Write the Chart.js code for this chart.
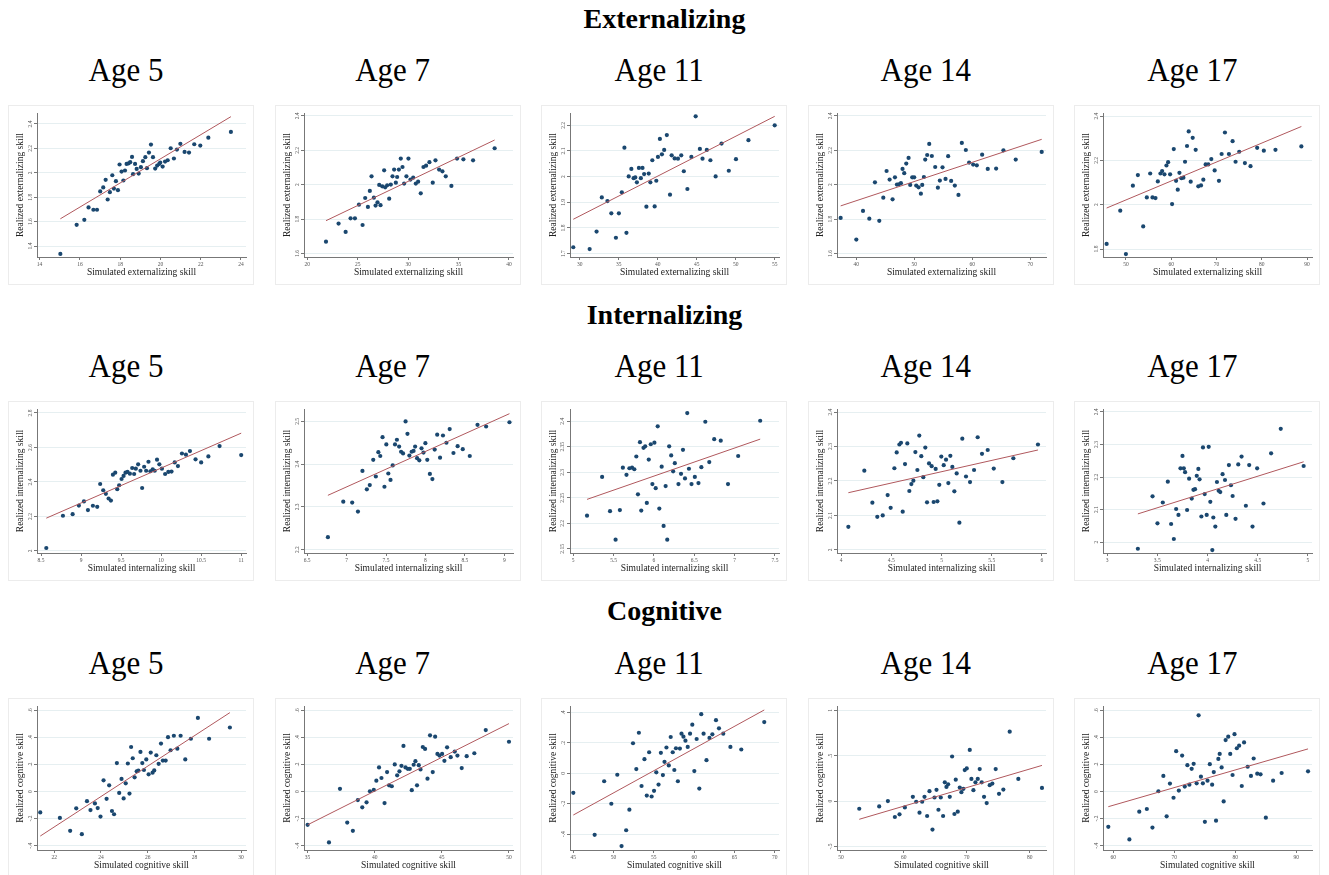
<!DOCTYPE html>
<html>
<head>
<meta charset="utf-8">
<script src="https://cdn.jsdelivr.net/npm/chart.js@4.4.0/dist/chart.umd.min.js"></script>
<style>
body { margin:0; background:#fff; width:1329px; height:875px; overflow:hidden; position:relative;
       font-family:"Liberation Serif","Times New Roman",serif; }
.group { position:absolute; left:0; width:1329px; text-align:center; font-weight:bold;
         font-size:28px; line-height:28px; color:#000; }
.age { position:absolute; width:246px; text-align:center; font-size:31px; line-height:31px; color:#000;
       transform:scaleY(1.1); transform-origin:50% 26px; }
.panel { position:absolute; width:244px; height:178px; border:1px solid #ececec; background:#fff; }
.panel canvas { display:block; }
</style>
</head>
<body>
<script>
const groups = ['Externalizing', 'Internalizing', 'Cognitive'];
const ages = ['Age 5', 'Age 7', 'Age 11', 'Age 14', 'Age 17'];
const xTitles = ['Simulated externalizing skill', 'Simulated internalizing skill', 'Simulated cognitive skill'];
const yTitles = ['Realized externalizing skill', 'Realized internalizing skill', 'Realized cognitive skill'];

// [simulated, realized] per child-group point
const ext5 = [[15.03,1.335],[15.84,1.574],[16.22,1.615],[16.43,1.716],[16.67,1.697],[16.85,1.697],[17.01,1.847],[17.16,1.88],[17.28,1.942],[17.38,1.781],[17.49,1.841],[17.61,1.98],[17.69,1.871],[17.79,1.931],[17.89,1.858],[17.97,2.068],[18.07,2.01],[18.16,1.937],[18.24,2.019],[18.32,2.073],[18.42,2.078],[18.5,2.087],[18.59,2.13],[18.64,1.989],[18.74,2.073],[18.82,2.032],[18.92,1.994],[19.03,2.046],[19.13,2.095],[19.25,2.128],[19.33,2.038],[19.43,2.166],[19.53,2.231],[19.63,2.128],[19.74,2.035],[19.84,2.059],[19.94,2.073],[19.99,2.084],[20.11,2.051],[20.23,2.092],[20.36,2.103],[20.51,2.201],[20.67,2.117],[20.82,2.19],[20.99,2.237],[21.2,2.171],[21.42,2.166],[21.68,2.234],[21.98,2.223],[22.38,2.288],[23.5,2.335]];
const ext7 = [[21.85,1.669],[23.1,1.774],[23.8,1.726],[24.29,1.805],[24.72,1.805],[25.12,1.884],[25.48,1.766],[25.74,1.923],[26.01,1.871],[26.2,1.964],[26.37,2.049],[26.6,1.925],[26.77,1.879],[26.96,1.898],[27.13,1.999],[27.26,1.881],[27.43,1.991],[27.62,2.084],[27.72,1.985],[27.92,1.997],[28.12,1.919],[28.28,2.001],[28.45,2.049],[28.61,2.088],[28.78,2.012],[28.91,2.045],[29.08,2.088],[29.27,2.152],[29.44,2.103],[29.6,2.007],[29.83,2.049],[30.03,2.152],[30.23,2.03],[30.5,2.041],[30.76,2.007],[30.99,2.018],[31.25,1.95],[31.52,2.103],[31.78,2.111],[32.11,2.131],[32.44,2.012],[32.71,2.142],[33.07,2.088],[33.4,2.078],[33.73,2.049],[34.29,1.993],[34.85,2.152],[35.48,2.148],[36.44,2.142],[38.58,2.212]];
const ext11 = [[29.16,1.725],[31.26,1.718],[32.15,1.786],[32.82,1.919],[33.54,1.905],[34.04,1.857],[34.63,1.762],[35.01,1.857],[35.39,1.939],[35.72,2.113],[35.98,1.781],[36.27,2.001],[36.61,2.03],[36.9,1.994],[37.11,1.997],[37.32,1.978],[37.58,2.034],[37.83,1.994],[38.04,2.034],[38.25,2.01],[38.54,1.883],[38.84,2.012],[39.05,1.978],[39.3,2.064],[39.6,1.884],[39.81,1.984],[40.02,2.077],[40.27,2.147],[40.53,2.087],[40.82,2.104],[41.16,2.162],[41.57,1.93],[41.78,2.083],[42.16,2.071],[42.59,2.07],[43.01,2.083],[43.34,2.021],[43.8,1.952],[44.31,2.077],[44.86,2.235],[45.4,2.108],[45.74,2.07],[46.29,2.104],[46.75,2.064],[47.42,2.001],[48.18,2.129],[49.11,2.023],[50.03,2.068],[51.63,2.142],[55,2.2]];
const ext14 = [[37.3,1.807],[40,1.681],[41.15,1.848],[42.24,1.803],[43.21,2.014],[43.96,1.79],[44.65,1.925],[45.22,2.08],[45.74,2.03],[46.25,1.915],[46.66,2.043],[47,2.001],[47.34,2.003],[47.69,2.009],[47.97,2.092],[48.26,2.067],[48.61,2.123],[49.01,2.156],[49.29,1.999],[49.64,2.043],[49.98,2.043],[50.33,1.995],[50.73,1.985],[51.13,1.948],[51.36,1.999],[51.65,2.045],[51.88,2.146],[52.22,2.173],[52.57,2.237],[53.02,2.167],[53.6,2.103],[54.06,1.983],[54.4,2.024],[54.86,2.101],[55.38,2.034],[55.83,2.166],[56.35,2.022],[56.98,1.995],[57.61,1.941],[58.19,2.243],[58.88,2.202],[59.45,2.129],[60.14,2.117],[60.77,2.113],[61.69,2.175],[62.66,2.092],[64.1,2.094],[65.36,2.2],[67.48,2.146],[71.96,2.191]];
const ext17 = [[45.74,1.823],[48.75,1.973],[50,1.777],[51.54,2.086],[52.64,2.134],[53.82,1.902],[54.62,2.033],[55.36,2.141],[55.87,2.033],[56.53,2.03],[57.05,2.105],[57.63,2.141],[58,2.152],[58.51,2.137],[58.95,2.177],[59.32,2.192],[59.76,2.137],[60.2,2.003],[60.57,2.251],[61.08,2.108],[61.45,2.068],[61.82,2.144],[62.26,2.12],[62.7,2.122],[63.06,2.194],[63.5,2.265],[63.87,2.331],[64.31,2.104],[64.75,2.302],[65.41,2.248],[65.99,2.083],[66.59,2.087],[67.1,2.113],[67.61,2.182],[68.2,2.182],[68.86,2.206],[69.6,2.155],[70.55,2.108],[71.14,2.229],[71.87,2.326],[72.75,2.229],[73.56,2.287],[74.22,2.194],[75.03,2.239],[76.28,2.188],[77.52,2.174],[78.99,2.257],[80.46,2.244],[83.03,2.248],[88.75,2.263]];

const int5 = [[8.566,2.017],[8.774,2.204],[8.895,2.213],[8.973,2.263],[9.036,2.287],[9.086,2.237],[9.148,2.262],[9.202,2.256],[9.239,2.388],[9.277,2.352],[9.31,2.331],[9.344,2.304],[9.373,2.292],[9.398,2.442],[9.427,2.454],[9.452,2.358],[9.476,2.381],[9.506,2.417],[9.531,2.435],[9.555,2.454],[9.58,2.458],[9.61,2.448],[9.639,2.481],[9.663,2.446],[9.684,2.477],[9.713,2.502],[9.742,2.465],[9.763,2.365],[9.788,2.488],[9.813,2.465],[9.842,2.517],[9.866,2.462],[9.895,2.473],[9.92,2.465],[9.949,2.529],[9.978,2.502],[10.01,2.477],[10.05,2.446],[10.09,2.458],[10.13,2.46],[10.17,2.513],[10.21,2.492],[10.26,2.565],[10.31,2.558],[10.36,2.579],[10.43,2.531],[10.5,2.513],[10.59,2.548],[10.73,2.608],[11,2.556]];
const int7 = [[6.763,2.229],[6.958,2.312],[7.071,2.31],[7.144,2.289],[7.201,2.384],[7.257,2.341],[7.294,2.351],[7.338,2.41],[7.371,2.371],[7.403,2.428],[7.427,2.419],[7.456,2.463],[7.48,2.347],[7.504,2.446],[7.529,2.378],[7.557,2.363],[7.585,2.397],[7.614,2.446],[7.638,2.457],[7.666,2.441],[7.691,2.429],[7.716,2.425],[7.748,2.5],[7.772,2.471],[7.796,2.42],[7.825,2.429],[7.849,2.431],[7.869,2.441],[7.894,2.414],[7.922,2.409],[7.95,2.437],[7.975,2.427],[7.999,2.449],[8.023,2.41],[8.056,2.377],[8.088,2.365],[8.117,2.434],[8.149,2.469],[8.185,2.415],[8.222,2.467],[8.266,2.45],[8.307,2.482],[8.355,2.426],[8.408,2.442],[8.473,2.435],[8.562,2.419],[8.66,2.492],[8.769,2.488],[9.065,2.498]];
const int11 = [[5.171,2.215],[5.358,2.291],[5.456,2.224],[5.525,2.168],[5.578,2.226],[5.615,2.309],[5.66,2.295],[5.696,2.308],[5.729,2.309],[5.757,2.306],[5.782,2.331],[5.802,2.257],[5.827,2.359],[5.843,2.225],[5.871,2.348],[5.892,2.351],[5.912,2.24],[5.936,2.325],[5.961,2.355],[5.981,2.277],[6.006,2.358],[6.022,2.269],[6.047,2.39],[6.067,2.229],[6.096,2.311],[6.12,2.195],[6.145,2.273],[6.165,2.168],[6.189,2.351],[6.214,2.333],[6.238,2.302],[6.259,2.318],[6.304,2.277],[6.336,2.297],[6.36,2.344],[6.385,2.288],[6.413,2.416],[6.434,2.307],[6.466,2.277],[6.507,2.291],[6.552,2.279],[6.588,2.31],[6.637,2.399],[6.686,2.32],[6.747,2.365],[6.828,2.362],[6.918,2.277],[7.044,2.332],[7.317,2.401]];
const int14 = [[4.073,2.067],[4.232,2.23],[4.312,2.137],[4.361,2.096],[4.415,2.1],[4.464,2.159],[4.494,2.122],[4.531,2.237],[4.554,2.283],[4.581,2.306],[4.597,2.311],[4.614,2.111],[4.637,2.249],[4.66,2.309],[4.68,2.171],[4.7,2.191],[4.72,2.201],[4.74,2.284],[4.76,2.232],[4.779,2.332],[4.799,2.272],[4.819,2.211],[4.839,2.297],[4.856,2.138],[4.876,2.251],[4.902,2.243],[4.922,2.139],[4.942,2.235],[4.959,2.141],[4.978,2.189],[4.998,2.271],[5.022,2.246],[5.045,2.262],[5.068,2.194],[5.088,2.273],[5.108,2.241],[5.128,2.17],[5.151,2.222],[5.178,2.079],[5.207,2.323],[5.244,2.213],[5.284,2.197],[5.324,2.232],[5.36,2.327],[5.403,2.279],[5.46,2.29],[5.52,2.236],[5.606,2.197],[5.715,2.266],[5.96,2.306]];
const int17 = [[3.307,1.98],[3.453,2.141],[3.502,2.058],[3.555,2.122],[3.605,2.186],[3.638,2.056],[3.665,2.01],[3.688,2.102],[3.711,2.084],[3.731,2.227],[3.751,2.265],[3.764,2.227],[3.777,2.215],[3.797,2.099],[3.817,2.195],[3.843,2.134],[3.86,2.161],[3.876,2.163],[3.893,2.204],[3.909,2.225],[3.921,2.193],[3.939,2.079],[3.955,2.291],[3.972,2.148],[3.992,2.084],[4.012,2.293],[4.028,2.124],[4.048,1.976],[4.058,2.076],[4.078,2.048],[4.094,2.185],[4.111,2.158],[4.127,2.154],[4.15,2.209],[4.174,2.191],[4.187,2.084],[4.213,2.237],[4.233,2.175],[4.25,2.142],[4.279,2.072],[4.306,2.239],[4.339,2.263],[4.382,2.112],[4.415,2.237],[4.448,2.048],[4.494,2.227],[4.557,2.119],[4.633,2.273],[4.729,2.348],[4.957,2.234]];

const cog5 = [[21.4,-0.154],[22.24,-0.195],[22.68,-0.29],[22.94,-0.124],[23.18,-0.315],[23.4,-0.071],[23.55,-0.137],[23.74,-0.088],[23.86,-0.122],[23.98,-0.185],[24.11,0.083],[24.24,-0.054],[24.35,0.046],[24.47,-0.144],[24.56,-0.168],[24.68,0.21],[24.78,-0.01],[24.88,0.093],[24.97,-0.051],[25.06,0.061],[25.15,0.207],[25.22,-0.015],[25.29,0.329],[25.36,0.246],[25.44,0.105],[25.53,0.149],[25.6,0.154],[25.69,0.293],[25.77,0.21],[25.84,0.159],[25.94,0.237],[26.04,0.127],[26.13,0.288],[26.21,0.139],[26.28,0.156],[26.37,0.268],[26.47,0.205],[26.57,0.354],[26.65,0.229],[26.77,0.229],[26.87,0.402],[26.98,0.305],[27.12,0.412],[27.27,0.317],[27.41,0.412],[27.61,0.237],[27.85,0.39],[28.15,0.544],[28.63,0.39],[29.52,0.473]];
const cog7 = [[35,-0.246],[36.59,-0.376],[37.41,0.02],[37.95,-0.229],[38.37,-0.29],[38.74,-0.063],[39.07,-0.117],[39.39,-0.08],[39.64,0.002],[39.93,0.012],[40.12,0.08],[40.32,0.178],[40.5,0.1],[40.73,-0.085],[40.92,0.144],[41.07,0.046],[41.27,0.039],[41.49,0.2],[41.67,0.12],[41.84,0.149],[41.99,0.19],[42.14,0.337],[42.29,0.178],[42.46,0.168],[42.61,0.168],[42.76,0.01],[42.9,0.198],[43.03,0.224],[43.15,0.046],[43.28,0.195],[43.41,0.163],[43.58,0.329],[43.75,0.315],[43.93,0.095],[44.12,0.415],[44.32,0.144],[44.5,0.405],[44.67,0.278],[44.82,0.266],[45.02,0.278],[45.19,0.227],[45.39,0.327],[45.66,0.254],[45.96,0.295],[46.16,0.266],[46.48,0.173],[46.85,0.261],[47.42,0.283],[48.27,0.454],[50,0.368]];
const cog11 = [[45,-0.128],[47.65,-0.404],[48.83,-0.052],[49.72,-0.2],[50.46,-0.009],[50.99,-0.478],[51.56,-0.374],[51.96,-0.239],[52.41,0.198],[52.82,0.028],[53.14,0.267],[53.47,-0.083],[53.83,0.093],[54.12,-0.146],[54.41,0.139],[54.72,-0.152],[55.02,-0.115],[55.3,0.007],[55.58,-0.074],[55.87,0.135],[56.12,-0.011],[56.32,0.076],[56.56,0.17],[56.85,0.052],[57.09,0.239],[57.34,0.139],[57.54,0.022],[57.74,0.165],[57.98,-0.052],[58.23,0.163],[58.43,0.261],[58.67,0.241],[58.92,0.215],[59.2,0.174],[59.49,0.261],[59.77,0.32],[60.02,0.015],[60.31,0.226],[60.64,-0.1],[60.88,0.389],[61.17,0.261],[61.53,0.087],[61.9,0.233],[62.26,0.257],[62.71,0.35],[63.08,0.296],[63.61,0.261],[64.5,0.174],[65.85,0.157],[68.7,0.337]];
const cog14 = [[52.91,-0.084],[56.08,-0.058],[57.46,0],[58.57,-0.175],[59.31,-0.145],[60.16,-0.069],[61.43,0.047],[61.96,-0.007],[62.49,-0.127],[62.91,-0.007],[63.28,0.047],[63.7,-0.164],[64.07,0.109],[64.55,-0.313],[64.87,0.04],[65.19,0.124],[65.5,-0.095],[65.87,0.04],[66.24,-0.164],[66.51,0.207],[66.77,0.156],[67.04,0.185],[67.3,0.047],[67.67,0.491],[68.04,-0.142],[68.25,0.236],[68.57,-0.116],[68.89,0.149],[69.15,0.098],[69.47,0.135],[69.68,0.342],[70,0.36],[70.48,0.564],[70.74,0.244],[71.06,0.12],[71.38,0.207],[71.75,0.244],[72.06,0.353],[72.38,0.207],[72.75,0.047],[73.17,-0.022],[73.65,0.175],[74.07,0.193],[74.6,0.353],[75.13,0.08],[75.82,0.127],[76.83,0.764],[78.2,0.244],[81.96,0.145]];
const cog17 = [[59.19,-0.261],[62.65,-0.354],[64.27,-0.149],[65.51,-0.129],[66.43,-0.266],[67.41,0.002],[68.22,0.115],[68.76,-0.183],[69.3,0.059],[69.89,-0.046],[70.32,0.298],[70.76,0.007],[71.3,0.266],[71.73,0.037],[72.16,0.195],[72.49,0.051],[72.86,0.168],[73.19,0.205],[73.68,0.061],[74,0.563],[74.38,0.11],[74.7,0.061],[75.03,-0.224],[75.46,0.08],[75.84,0.202],[76.22,0.051],[76.49,0.144],[76.86,-0.215],[77.24,0.241],[77.46,0.278],[77.78,0.178],[78.11,-0.073],[78.43,0.38],[78.86,0.405],[79.19,0.278],[79.57,0.122],[79.89,0.424],[80.27,0.32],[80.65,0.339],[81.08,0.041],[81.46,0.363],[82.05,0.183],[82.59,0.115],[83.03,0.244],[83.62,0.132],[84.16,0.127],[85.03,-0.193],[86.22,0.08],[87.62,0.137],[91.95,0.149]];

// linear fit end points
const fits = [
  [[15.03,1.623],[23.5,2.46]], [[21.85,1.791],[38.58,2.26]], [[29.16,1.834],[55,2.235]], [[37.3,1.877],[71.96,2.264]], [[45.74,1.985],[88.75,2.353]],
  [[8.566,2.19],[11,2.683]], [[6.763,2.327],[9.065,2.518]], [[5.171,2.247],[7.317,2.365]], [[4.073,2.166],[5.96,2.29]], [[3.307,2.087],[4.957,2.247]],
  [[21.4,-0.329],[29.52,0.583]], [[35,-0.246],[50,0.502]], [[45,-0.274],[68.7,0.417]], [[52.91,-0.2],[81.96,0.393]], [[59.19,-0.112],[91.95,0.315]]
];
const series = [ext5, ext7, ext11, ext14, ext17, int5, int7, int11, int14, int17, cog5, cog7, cog11, cog14, cog17];

const xTicks = [
  [14,16,18,20,22,24], [20,25,30,35,40], [30,35,40,45,50,55], [40,50,60,70], [50,60,70,80,90],
  [8.5,9,9.5,10,10.5,11], [6.5,7,7.5,8,8.5,9], [5,5.5,6,6.5,7,7.5], [4,4.5,5,5.5,6], [3,3.5,4,4.5,5],
  [22,24,26,28,30], [35,40,45,50], [45,50,55,60,65,70], [50,60,70,80], [60,70,80,90]
];
const yTicks = [
  [1.4,1.6,1.8,2,2.2,2.4], [1.6,1.8,2,2.2,2.4], [1.7,1.8,1.9,2,2.1,2.2], [1.6,1.8,2,2.2,2.4], [1.8,2,2.2,2.4],
  [2,2.2,2.4,2.6,2.8], [2.2,2.3,2.4,2.5], [2.15,2.2,2.25,2.3,2.35,2.4], [2,2.1,2.2,2.3,2.4], [2,2.1,2.2,2.3,2.4],
  [-0.4,-0.2,0,0.2,0.4,0.6], [-0.4,-0.2,0,0.2,0.4,0.6], [-0.4,-0.2,0,0.2,0.4], [-0.5,0,0.5,1], [-0.4,-0.2,0,0.2,0.4,0.6]
];
const xRange = [
  [13.87,24.25], [19.67,40.4], [28.74,55.55], [36.67,72.7], [44.94,91.1],
  [8.45,11.06], [6.46,9.11], [4.96,7.55], [3.96,6.04], [2.96,5.04],
  [21.26,30.21], [34.73,50.3], [44.59,70.53], [49.37,82.6], [58.32,92.6]
];
const yRange = [
  [1.31,2.49], [1.58,2.417], [1.687,2.248], [1.58,2.417], [1.764,2.414],
  [1.988,2.823], [2.192,2.529], [2.142,2.424], [1.991,2.409], [1.967,2.409],
  [-0.432,0.632], [-0.432,0.632], [-0.504,0.443], [-0.538,1.047], [-0.432,0.632]
];

const FONT = '"Liberation Serif", "Times New Roman", serif';
const ROW = 296.3;

function stataLabel(v) {
  let s = String(+Number(v).toFixed(4));
  return s.replace(/^(-?)0\./, '$1.');
}

function addDiv(cls, text, left, top) {
  const d = document.createElement('div');
  d.className = cls;
  if (text) d.textContent = text;
  if (left !== null) d.style.left = left + 'px';
  d.style.top = top + 'px';
  document.body.appendChild(d);
  return d;
}

for (let r = 0; r < 3; r++) {
  addDiv('group', groups[r], null, 4.5 + r * ROW);
  for (let c = 0; c < 5; c++) {
    const i = r * 5 + c;
    const left = 8 + c * 266.6;
    addDiv('age', ages[c], left - 5, 55 + r * ROW);
    const box = addDiv('panel', '', left, 105 + r * ROW);
    const cv = document.createElement('canvas');
    cv.width = 244; cv.height = 178;
    box.appendChild(cv);

    new Chart(cv, {
      type: 'scatter',
      data: {
        datasets: [
          {
            type: 'line',
            data: fits[i].map(p => ({x: p[0], y: p[1]})),
            borderColor: '#b0585d',
            borderWidth: 1,
            pointRadius: 0,
            fill: false,
            order: 0
          },
          {
            data: series[i].map(p => ({x: p[0], y: p[1]})),
            backgroundColor: '#1a476f',
            borderWidth: 0,
            pointRadius: 2.1,
            order: 1
          }
        ]
      },
      options: {
        responsive: false,
        animation: false,
        devicePixelRatio: 1,
        layout: { padding: { left: 0, top: 7, right: 7, bottom: 0 } },
        plugins: { legend: { display: false }, tooltip: { enabled: false } },
        scales: {
          x: {
            type: 'linear',
            min: xRange[i][0], max: xRange[i][1],
            afterBuildTicks: s => { s.ticks = xTicks[i].map(v => ({value: v})); },
            afterFit: s => { s.height = 27; },
            grid: { drawOnChartArea: false, drawTicks: true, tickLength: 3, color: '#777', tickColor: '#777' },
            border: { color: '#777', width: 1 },
            ticks: { font: { size: 5.5, family: FONT }, color: '#555', padding: 1, maxRotation: 0, autoSkip: false, callback: stataLabel },
            title: { display: true, text: xTitles[r], font: { size: 9.5, family: FONT }, color: '#222', padding: { top: 0, bottom: 5.6 } }
          },
          y: {
            type: 'linear',
            min: yRange[i][0], max: yRange[i][1],
            afterBuildTicks: s => { s.ticks = yTicks[i].map(v => ({value: v})); },
            afterFit: s => { s.width = 28; },
            grid: { drawOnChartArea: true, drawTicks: true, tickLength: 3, color: '#e6eff1', tickColor: '#777' },
            border: { color: '#777', width: 1 },
            ticks: { font: { size: 5.5, family: FONT }, color: '#555', padding: 0, minRotation: 90, maxRotation: 90, crossAlign: 'center', autoSkip: false, callback: stataLabel },
            title: { display: true, text: yTitles[r], font: { size: 9.5, family: FONT }, color: '#222', padding: { top: 5.3, bottom: 0 } }
          }
        }
      }
    });
  }
}
</script>
</body>
</html>
